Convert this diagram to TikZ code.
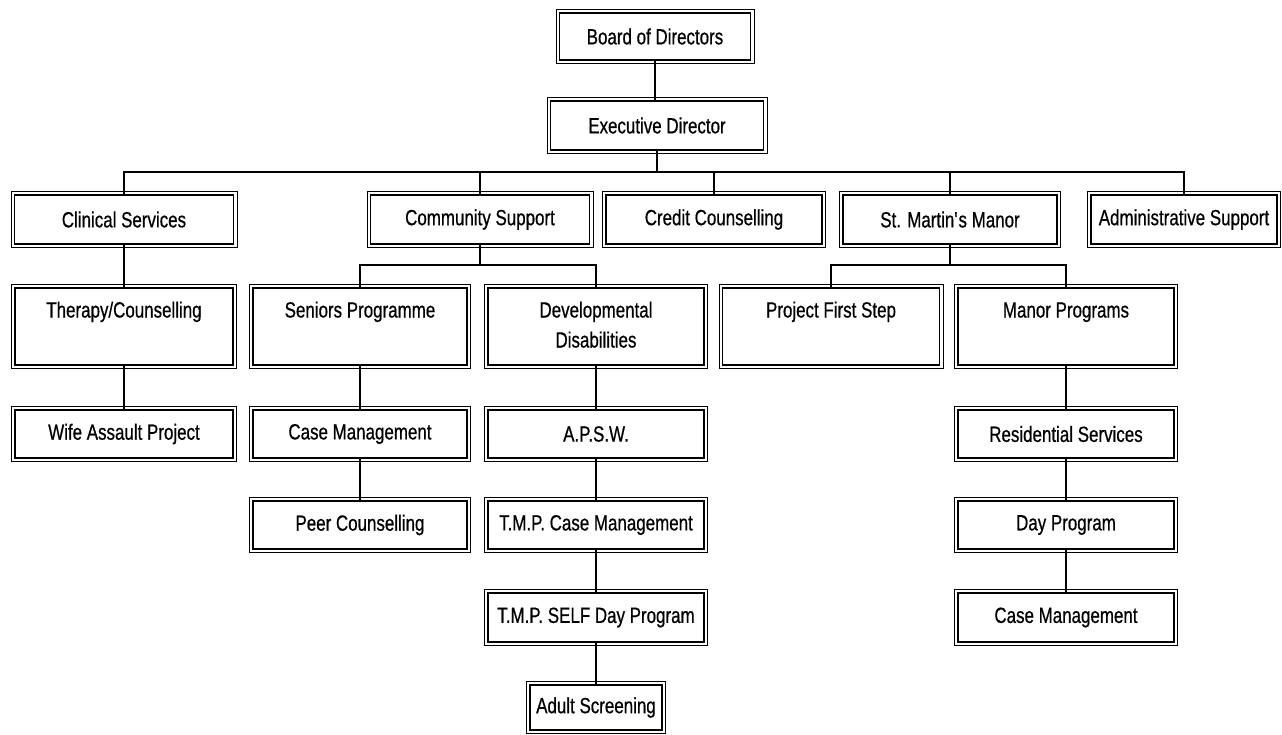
\documentclass[tikz,border=0pt]{standalone}
\usepackage{fontspec}
\setmainfont{Liberation Sans}[FakeStretch=0.77, FakeBold=0.6]
\newcommand\orgfont{\fontsize{22}{30}\selectfont}
\tikzset{
  box/.style={draw, line width=1.8pt, inner sep=0pt, font=\orgfont, align=center,
    append after command={\pgfextra{\draw[line width=0.7pt]
      ([shift={(-2.6pt,-2.6pt)}]\tikzlastnode.south west) rectangle
      ([shift={(2.6pt,2.6pt)}]\tikzlastnode.north east);}}},
  conn/.style={line width=2pt},
}
\begin{document}
\begin{tikzpicture}[x=1pt,y=-1pt]
\useasboundingbox[fill=white] (0,0) rectangle (1282,734);
% top
\node[box, minimum width=191, minimum height=47] (board) at (655,36.5) {Board of Directors};
\node[box, minimum width=213, minimum height=49] (ed) at (657,125.5) {Executive Director};
% level 1
\node[box, minimum width=219, minimum height=49] (clin) at (124,219.5) {Clinical Services};
\node[box, minimum width=219, minimum height=49] (comm) at (480,219.5) {Community Support};
\node[box, minimum width=216, minimum height=49] (cred) at (714,219.5) {Credit Counselling};
\node[box, minimum width=214, minimum height=49] (stm) at (950,219.5) {St. Martin\textquotesingle s Manor};
\node[box, minimum width=186, minimum height=49] (admin) at (1184,219.5) {Administrative Support};
% level 2
\node[box, minimum width=218, minimum height=77] (ther) at (124,326.5) {Therapy/Counselling\strut\\\strut};
\node[box, minimum width=214, minimum height=77] (sen) at (360,326.5) {Seniors Programme\strut\\\strut};
\node[box, minimum width=216, minimum height=77] (dev) at (596,326.5) {Developmental\strut\\Disabilities\strut};
\node[box, minimum width=217, minimum height=77] (pfs) at (831,326.5) {Project First Step\strut\\\strut};
\node[box, minimum width=216, minimum height=77] (manor) at (1066,326.5) {Manor Programs\strut\\\strut};
% level 3
\node[box, minimum width=218, minimum height=48] (wife) at (124,434) {Wife Assault Project};
\node[box, minimum width=214, minimum height=48] (cm1) at (360,434) {Case Management};
\node[box, minimum width=216, minimum height=48] (apsw) at (596,434) {A.P.S.W.};
\node[box, minimum width=216, minimum height=48] (res) at (1066,434) {Residential Services};
% level 4
\node[box, minimum width=214, minimum height=48] (peer) at (360,525) {Peer Counselling};
\node[box, minimum width=216, minimum height=48] (tmpcm) at (596,525) {T.M.P. Case Management};
\node[box, minimum width=216, minimum height=48] (day) at (1066,525) {Day Program};
% level 5
\node[box, minimum width=216, minimum height=49] (tmpself) at (596,617.5) {T.M.P. SELF Day Program};
\node[box, minimum width=216, minimum height=49] (cm2) at (1066,617.5) {Case Management};
% level 6
\node[box, minimum width=132, minimum height=45] (adult) at (596,707.5) {Adult Screening};
% buses
\coordinate (bus1) at (0,172);
\coordinate (bus2) at (0,265);
% connectors
\draw[conn] (board.south) -- (board.south |- ed.north);
\draw[conn] (ed.south) -- (ed.south |- bus1);
\draw[conn] (clin.north) |- (admin.north |- bus1) -- (admin.north);
\draw[conn] (comm.north) -- (comm.north |- bus1);
\draw[conn] (cred.north) -- (cred.north |- bus1);
\draw[conn] (stm.north) -- (stm.north |- bus1);
\draw[conn] (comm.south) -- (comm.south |- bus2);
\draw[conn] (sen.north) |- (dev.north |- bus2) -- (dev.north);
\draw[conn] (stm.south) -- (stm.south |- bus2);
\draw[conn] (pfs.north) |- (manor.north |- bus2) -- (manor.north);
\draw[conn] (clin) -- (ther);
\draw[conn] (ther) -- (wife);
\draw[conn] (sen) -- (cm1);
\draw[conn] (cm1) -- (peer);
\draw[conn] (dev) -- (apsw);
\draw[conn] (apsw) -- (tmpcm);
\draw[conn] (tmpcm) -- (tmpself);
\draw[conn] (tmpself) -- (adult);
\draw[conn] (manor) -- (res);
\draw[conn] (res) -- (day);
\draw[conn] (day) -- (cm2);
\end{tikzpicture}
\end{document}
